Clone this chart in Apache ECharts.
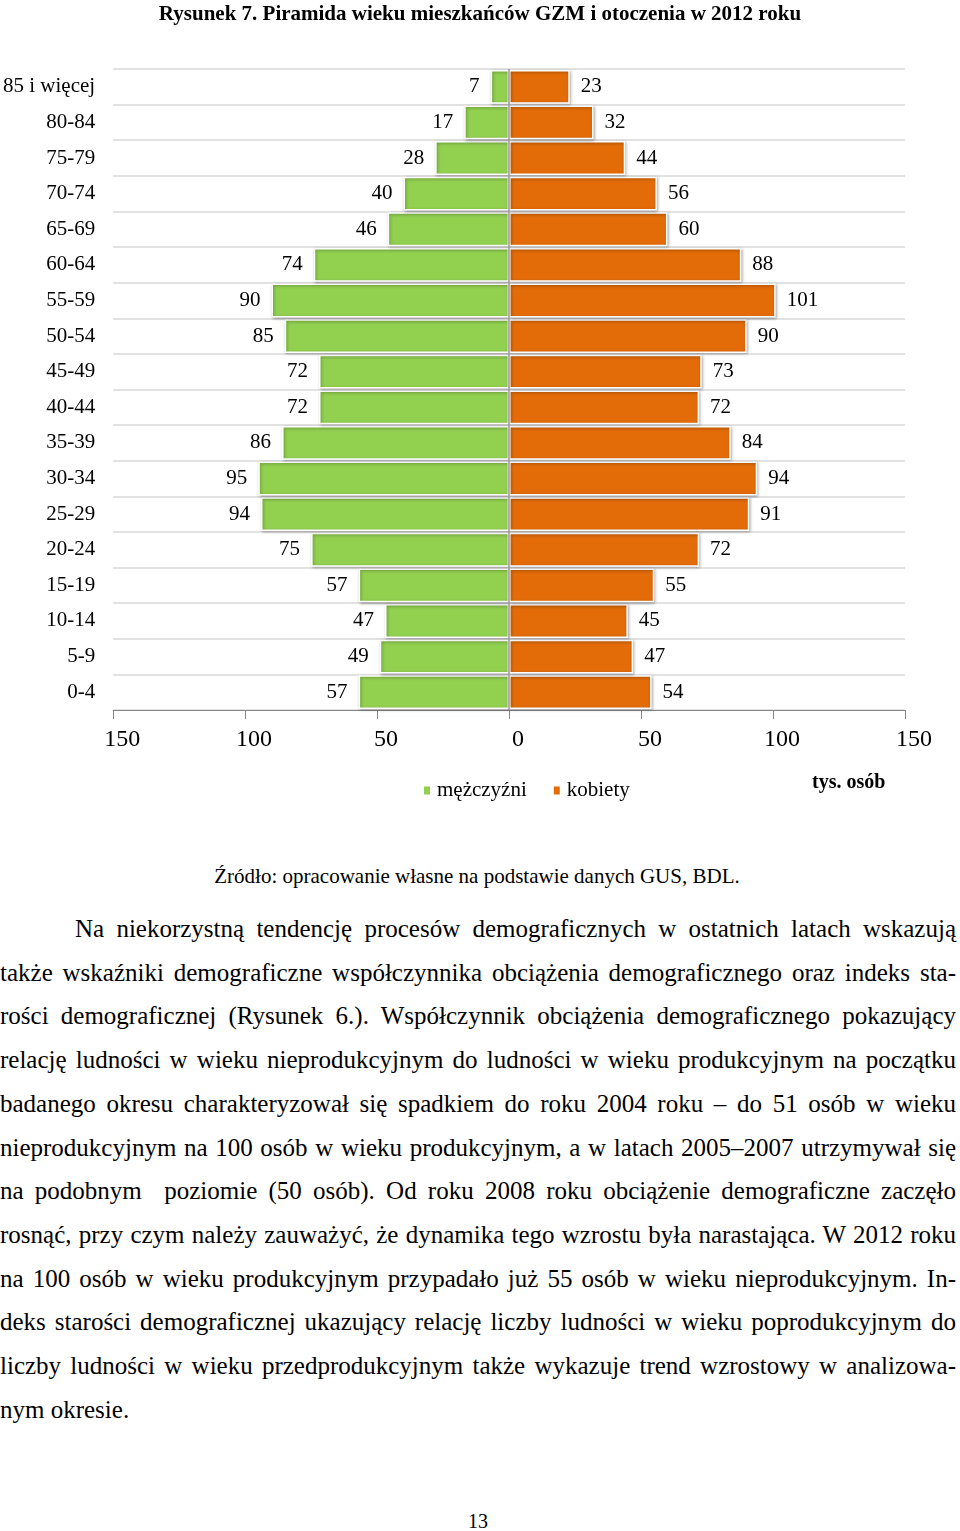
<!DOCTYPE html>
<html><head><meta charset="utf-8">
<script src="https://cdn.jsdelivr.net/npm/echarts@6/dist/echarts.min.js"></script>
<style>
html,body{margin:0;padding:0;background:#fff;}
#page{position:relative;width:960px;height:1531px;overflow:hidden;font-family:"Liberation Serif","Times New Roman",serif;color:#000;}
#chart{position:absolute;left:0;top:0;width:960px;height:830px;}
.src{position:absolute;left:0;width:954px;top:863px;text-align:center;font-size:21px;line-height:26px;}
#para{position:absolute;left:0;top:907px;width:956px;font-size:25px;line-height:43.7px;}
#para div{text-align:justify;text-align-last:justify;white-space:nowrap;}
#para div.first{padding-left:75px;}
#para div.last{text-align-last:left;}
.pg{position:absolute;left:0;width:956px;top:1510px;text-align:center;font-size:20px;}
</style></head>
<body><div id="page">
<div id="chart"></div>
<div class="src">Źródło: opracowanie własne na podstawie danych GUS, BDL.</div>
<div id="para">
<div class="first">Na niekorzystną tendencję procesów demograficznych w ostatnich latach wskazują</div>
<div>także wskaźniki demograficzne współczynnika obciążenia demograficznego oraz indeks sta-</div>
<div>rości demograficznej (Rysunek 6.). Współczynnik obciążenia demograficznego pokazujący</div>
<div>relację ludności w wieku nieprodukcyjnym do ludności w wieku produkcyjnym na początku</div>
<div>badanego okresu charakteryzował się spadkiem do roku 2004 roku – do 51 osób w wieku</div>
<div>nieprodukcyjnym na 100 osób w wieku produkcyjnym, a w latach 2005–2007 utrzymywał się</div>
<div>na podobnym&nbsp; poziomie (50 osób). Od roku 2008 roku obciążenie demograficzne zaczęło</div>
<div>rosnąć, przy czym należy zauważyć, że dynamika tego wzrostu była narastająca. W 2012 roku</div>
<div>na 100 osób w wieku produkcyjnym przypadało już 55 osób w wieku nieprodukcyjnym. In-</div>
<div>deks starości demograficznej ukazujący relację liczby ludności w wieku poprodukcyjnym do</div>
<div>liczby ludności w wieku przedprodukcyjnym także wykazuje trend wzrostowy w analizowa-</div>
<div class="last">nym okresie.</div>
</div>
<div class="pg">13</div>
</div>
<script>
// Data (from youngest to oldest; category axis draws first item at bottom)
var ageGroups = ['0-4','5-9','10-14','15-19','20-24','25-29','30-34','35-39','40-44','45-49','50-54','55-59','60-64','65-69','70-74','75-79','80-84','85 i więcej'];
var men   = [57, 49, 47, 57, 75, 94, 95, 86, 72, 72, 85, 90, 74, 46, 40, 28, 17, 7];
var women = [54, 47, 45, 55, 72, 91, 94, 84, 72, 73, 90, 101, 88, 60, 56, 44, 32, 23];
var xTicks = {min: -150, max: 150, interval: 50};
var seriesNames = ['mężczyźni', 'kobiety'];
var titleText = 'Rysunek 7. Piramida wieku mieszkańców GZM i otoczenia w 2012 roku';
var unitText = 'tys. osób';

var FONT = '"Liberation Serif","Times New Roman",serif';
var chart = echarts.init(document.getElementById('chart'), null, {renderer: 'canvas'});
var barStyle = function(c){ return {color: c, borderColor: '#ffffff', borderWidth: 1.5,
  shadowBlur: 3, shadowColor: 'rgba(0,0,0,0.35)', shadowOffsetX: 1, shadowOffsetY: 1}; };
chart.setOption({
  animation: false,
  textStyle: {fontFamily: FONT, color: '#000'},
  title: {text: titleText, left: 'center', top: -1,
    textStyle: {fontFamily: FONT, fontSize: 21, fontWeight: 'bold', color: '#000'}},
  legend: {data: seriesNames, left: 417, top: 775, icon: 'rect', itemWidth: 8, itemHeight: 10, itemGap: 25,
    textStyle: {fontFamily: FONT, fontSize: 21, color: '#000', padding: [0,0,0,1]}},
  graphic: [{type: 'text', left: 812, top: 773, style: {text: unitText, font: 'bold 20px ' + FONT, fill: '#000'}}],
  grid: {left: 113, right: 55, top: 69, bottom: 120},
  xAxis: {type: 'value', min: xTicks.min, max: xTicks.max, interval: xTicks.interval,
    axisLine: {show: true, lineStyle: {color: '#888', width: 1}},
    axisTick: {show: true, length: 9, lineStyle: {color: '#888'}},
    splitLine: {show: false},
    axisLabel: {fontFamily: FONT, fontSize: 24, color: '#000', margin: 18, padding: [0, 0, 0, 18],
      formatter: function(v){ return Math.abs(v); }}},
  yAxis: {type: 'category', data: ageGroups,
    axisLine: {show: false}, axisTick: {show: false},
    splitLine: {show: true, lineStyle: {color: '#d9d9d9', width: 1.5}},
    axisLabel: {fontFamily: FONT, fontSize: 21, color: '#000', margin: 18}},
  series: [
    {name: seriesNames[0], type: 'bar', barGap: '-100%', barCategoryGap: '5%',
     data: men.map(function(v){ return -v; }), itemStyle: barStyle('#92D050'),
     label: {show: true, position: 'left', distance: 11, fontFamily: FONT, fontSize: 21, color: '#000',
       formatter: function(p){ return Math.abs(p.value); }},
     markLine: {silent: true, symbol: 'none', label: {show: false},
       lineStyle: {color: '#999', type: 'solid', width: 1.5}, data: [{xAxis: 0}]}},
    {name: seriesNames[1], type: 'bar', barCategoryGap: '5%',
     data: women, itemStyle: barStyle('#E36C09'),
     label: {show: true, position: 'right', distance: 11, fontFamily: FONT, fontSize: 21, color: '#000'}}
  ]
});
</script>
</body></html>
